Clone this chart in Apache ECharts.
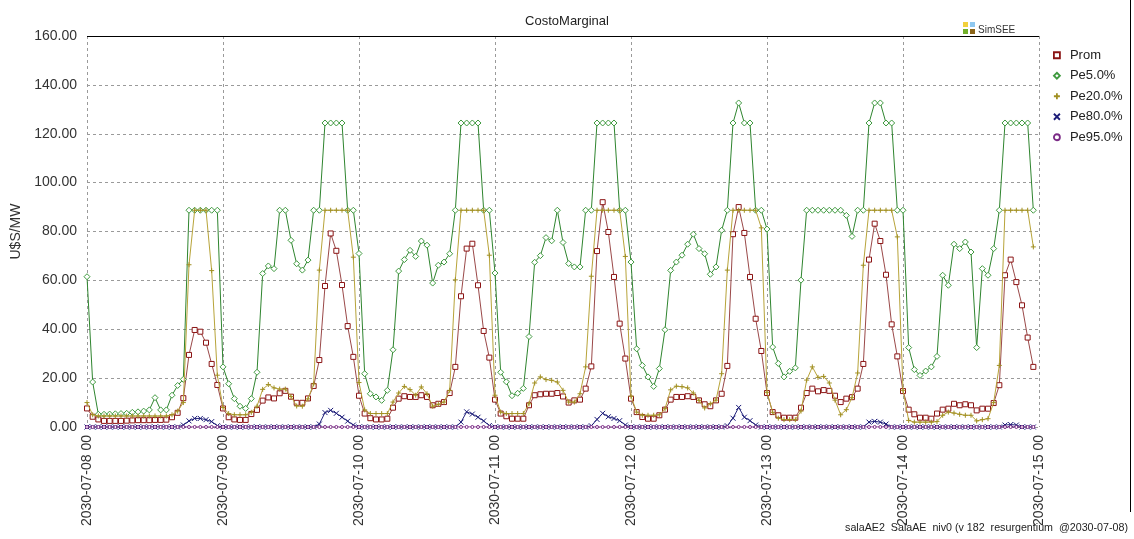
<!DOCTYPE html>
<html><head><meta charset="utf-8">
<script src="https://cdn.jsdelivr.net/npm/echarts@6/dist/echarts.min.js"></script>
<style>html,body{margin:0;padding:0;background:#fff}#c{width:1134px;height:539px}</style>
</head><body><div id="c"></div>
<script>
// Hourly values, 2030-07-08 00 .. 2030-07-14 23 (168 hours)
const xTickLabels = ['2030-07-08 00','2030-07-09 00','2030-07-10 00','2030-07-11 00','2030-07-12 00','2030-07-13 00','2030-07-14 00','2030-07-15 00'];
const yTickLabels = ['0.00','20.00','40.00','60.00','80.00','100.00','120.00','140.00','160.00'];
const seriesNames = ['Prom','Pe5.0%','Pe20.0%','Pe80.0%','Pe95.0%'];

const prom = [
7.6,4.2,3.1,2.5,2.5,2.5,2.5,2.6,2.7,2.8,2.8,2.8,2.9,2.9,3,4,5.8,11.8,29.5,39.7,39,34.5,25.8,17.2,
7.6,4,3.1,2.9,2.9,5.3,7,10.8,12.1,11.7,13.8,14.8,12.4,9.9,9.9,11.7,16.8,27.4,57.7,79.2,72.1,58.1,41.3,28.7,
12.8,5.5,3.6,3.1,3.1,3.4,7.9,11.6,12.6,12.3,12.3,13,12.3,8.9,9.5,10.2,13.9,24.6,53.5,73,75,58,39.3,28.4,
11.2,5.5,4.4,3.4,3.4,3.4,8.9,13,13.4,13.6,13.6,13.9,12.5,10,10.9,11.2,15.7,24.8,72,92,79.8,61.4,42.3,28,
11.6,6.1,4.1,3.4,3.4,4.8,7.1,11.2,12.3,12.3,12.6,12.3,10.9,9.3,8.5,10.9,13.6,25,78.9,90,79.4,61.4,44.3,31.1,
13.9,6.1,4.8,3.8,3.8,3.8,7.9,13.9,15.7,14.6,15.1,14.8,12.8,10.2,11.6,12.2,15.7,25.8,68.5,83.2,76.1,62.3,42,28.9,
14.7,7.1,5.2,3.8,3.8,3.4,5.5,7.1,7.5,9.5,8.9,9.3,8.9,6.8,7.5,7.5,9.8,17.1,62.1,68.5,59.3,49.8,36.6,24.6];

const pe5 = [
61.5,18.4,5.2,5.2,5.3,5.4,5.5,5.6,6,6.2,6.5,7,12,7,7,13,17,19.5,88.7,88.7,88.7,88.7,88.7,88.7,
24.6,17.7,11.6,8.5,7.6,11.6,22.4,62.8,65.9,64.8,88.7,88.7,76.4,66.8,64.2,68.3,88.7,88.7,124.4,124.4,124.4,124.4,88.7,88.7,
71,21.8,13.6,12.3,10.9,15,31.6,63.8,68.5,72.3,69.8,76.1,74.4,58.9,66.2,67.5,70.9,88.7,124.4,124.4,124.4,124.4,88.7,88.7,
63,22.4,18.5,12.8,13.8,15.8,37,67.4,70.1,77.5,76.2,88.7,75.5,66.9,65.5,65.5,88.7,88.7,124.4,124.4,124.4,124.4,88.7,88.7,
67.5,32,25.2,20.5,16.6,23.9,39.8,64.1,67.5,70.3,74.8,78.9,73,70.9,62.5,65.5,80.5,88.7,124.4,132.6,124.4,124.4,88.7,88.7,
81,32.7,26,20.5,22.8,24.2,60.1,88.7,88.7,88.7,88.7,88.7,88.7,88.7,86.6,78,88.7,88.7,124.4,132.6,132.6,124.4,124.4,88.7,
88.7,32.5,23.5,21.1,22.9,24.6,28.9,62.1,58,74.8,73,75.7,71.6,32.5,64.8,62.1,73,88.7,124.4,124.4,124.4,124.4,124.4,88.7];

const pe20 = [
10,5,4.5,4.5,4.5,4.5,4.5,4.5,4.5,4.5,4.5,4.5,4.5,4.5,4.5,5,6.5,10,66.4,88.7,88.7,88.7,64,21.2,
8,5.5,5,5,5,6,8.5,15.4,17.4,16,15.5,15.5,12.5,8.6,8.5,11.5,17.6,64.2,88.7,88.7,88.7,88.7,88.7,69.5,
18.2,7,5.5,5.5,5.5,5.5,10.2,13.9,16.6,15.3,13,16.4,13.6,8.5,9.3,10.2,15,60.2,88.7,88.7,88.7,88.7,88.7,70.3,
13,6.1,5.5,5.5,5.5,5.5,9.5,18,20.5,19.4,19.1,18.4,15,10.2,10.2,13.6,24.6,61.7,88.7,88.7,88.7,88.7,88.7,69.8,
12.6,6.1,4.8,4.8,4.8,5,7.5,15.2,16.7,16.5,16,13.9,10.9,7.8,9.5,11,21.8,64.2,88.7,88.7,88.7,88.7,88.7,81.5,
14.2,6,3.6,3,3,3,6.5,19.2,24.6,20.3,20.7,18,11,5,7.1,12,22.1,66.2,88.7,88.7,88.7,88.7,88.7,77.8,
15,2.7,2,2,2,2,2.2,4.8,6.1,5.7,5.2,4.8,4.8,2.5,3,3.4,10,25.2,88.7,88.7,88.7,88.7,88.7,73.7];

const pe80 = [
0,0,0,0,0,0,0,0,0,0,0,0,0,0,0,0,0,0.8,2.5,3.5,3.5,3,2.2,0.5,
0,0,0,0,0,0,0,0,0,0,0,0,0,0,0,0,0,1.2,5.9,6.8,5.6,4,2.4,0.8,
0,0,0,0,0,0,0,0,0,0,0,0,0,0,0,0,0,0,2,6.2,5.3,4,2.5,0.6,
0,0,0,0,0,0,0,0,0,0,0,0,0,0,0,0,0,0.5,3.1,5.6,4.2,3.5,2.6,0.8,
0,0,0,0,0,0,0,0,0,0,0,0,0,0,0,0,0,0.5,3.6,8,4,2.6,0.8,0,
0,0,0,0,0,0,0,0,0,0,0,0,0,0,0,0,0,0,2,2.3,2,1.2,0,0,
0,0,0,0,0,0,0,0,0,0,0,0,0,0,0,0,0,0,0.8,1,0.8,0,0,0];

const pe95 = [
0,0,0,0,0,0,0,0,0,0,0,0,0,0,0,0,0,0,0,0,0,0,0,0,
0,0,0,0,0,0,0,0,0,0,0,0,0,0,0,0,0,0,0,0,0,0,0,0,
0,0,0,0,0,0,0,0,0,0,0,0,0,0,0,0,0,0,0,0,0,0,0,0,
0,0,0,0,0,0,0,0,0,0,0,0,0,0,0,0,0,0,0,0,0,0,0,0,
0,0,0,0,0,0,0,0,0,0,0,0,0,0,0,0,0,0,0,0,0,0,0,0,
0,0,0,0,0,0,0,0,0,0,0,0,0,0,0,0,0,0,0,0,0,0,0,0,
0,0,0,0,0,0,0,0,0,0,0,0,0,0,0,0,0,0,0,0,0,0,0,0];

const PLUS = 'path://M5,0L5,10M0,5L10,5';
const CROSS = 'path://M0,0L10,10M10,0L0,10';
const FONT = 'Liberation Sans';

const styles = [
  {line:'#9a4848', mark:'#8b1414', symbol:'rect', size:5, fill:'#ffffff'},
  {line:'#2f852f', mark:'#3f9a3f', symbol:'diamond', size:6, fill:'#ffffff'},
  {line:'#b8a43a', mark:'#a08f22', symbol:PLUS, size:5, fill:'rgba(0,0,0,0)'},
  {line:'#23237c', mark:'#1c1c78', symbol:CROSS, size:5, fill:'rgba(0,0,0,0)'},
  {line:'#7b2a86', mark:'#7b2a86', symbol:'circle', size:3, fill:'#ffffff'}
];
const values = [prom, pe5, pe20, pe80, pe95];

const series = seriesNames.map((name, k) => ({
  name: name,
  type: 'line',
  data: values[k].map((v, i) => [i, v]),
  symbol: styles[k].symbol,
  symbolSize: styles[k].size,
  showAllSymbol: true,
  animation: false,
  z: 2 + k,
  lineStyle: {color: styles[k].line, width: 1},
  itemStyle: {color: styles[k].fill, borderColor: styles[k].mark, borderWidth: 1}
}));

const chart = echarts.init(document.getElementById('c'), null, {renderer: 'canvas'});
chart.setOption({
  backgroundColor: '#ffffff',
  animation: false,
  title: [
    {text: 'CostoMarginal', left: 'center', top: 10,
     textStyle: {fontFamily: FONT, fontSize: 13, fontWeight: 'normal', color: '#222'}},
    {text: 'salaAE2  SalaAE  niv0 (v 182  resurgentium  @2030-07-08)', right: 1, bottom: 0,
     textStyle: {fontFamily: FONT, fontSize: 10.7, fontWeight: 'normal', color: '#222'}},
    {text: 'SimSEE', left: 973, top: 20,
     textStyle: {fontFamily: FONT, fontSize: 10, fontWeight: 'normal', color: '#333'}}
  ],
  grid: {left: 87, right: 95, top: 36, bottom: 112, containLabel: false},
  xAxis: {
    type: 'value', min: 0, max: 168, interval: 24,
    axisLine: {show: false}, axisTick: {show: false},
    axisLabel: {rotate: 90, margin: 8, fontFamily: FONT, fontSize: 14, color: '#333',
      formatter: v => xTickLabels[Math.round(v / 24)]},
    splitLine: {show: true, lineStyle: {color: '#9a9a9a', type: [3, 3], width: 1}}
  },
  yAxis: {
    type: 'value', min: 0, max: 160, interval: 20,
    name: 'U$S/MW', nameLocation: 'middle', nameGap: 60,
    nameTextStyle: {fontFamily: FONT, fontSize: 14, color: '#333'},
    axisLine: {show: false}, axisTick: {show: false},
    axisLabel: {margin: 10, fontFamily: FONT, fontSize: 14, color: '#333',
      formatter: v => yTickLabels[Math.round(v / 20)]},
    splitLine: {show: true, lineStyle: {color: '#9a9a9a', type: [3, 3], width: 1}}
  },
  legend: {
    orient: 'vertical', left: 1048, top: 43, itemWidth: 6, itemHeight: 6, itemGap: 6,
    textStyle: {fontFamily: FONT, fontSize: 13, color: '#222', lineHeight: 14.5, padding: [0,0,0,5]},
    data: seriesNames.map((n, k) => ({
      name: n,
      icon: styles[k].symbol,
      itemStyle: {color: styles[k].fill, borderColor: styles[k].mark, borderWidth: 1.8}
    }))
  },
  graphic: [
    {type: 'line', shape: {x1: 87, y1: 36.5, x2: 1039, y2: 36.5}, style: {stroke: '#000', lineWidth: 1}, z: 100},
    {type: 'line', shape: {x1: 1130.5, y1: 0, x2: 1130.5, y2: 512}, style: {stroke: '#000', lineWidth: 1}, z: 100},
    {type: 'rect', shape: {x: 963, y: 22, width: 5, height: 5}, style: {fill: '#f2d03c'}},
    {type: 'rect', shape: {x: 970, y: 22, width: 5, height: 5}, style: {fill: '#8fc8f0'}},
    {type: 'rect', shape: {x: 963, y: 29, width: 5, height: 5}, style: {fill: '#72b02a'}},
    {type: 'rect', shape: {x: 970, y: 29, width: 5, height: 5}, style: {fill: '#8b6418'}}
  ],
  series: series
});
</script>
</body></html>
